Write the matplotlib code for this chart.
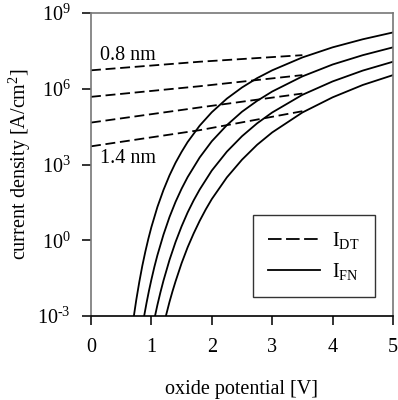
import numpy as np
import matplotlib
matplotlib.use("Agg")
import matplotlib.pyplot as plt
from matplotlib.ticker import FixedLocator, FixedFormatter
from matplotlib.lines import Line2D

plt.rcParams['font.family'] = ['Liberation Serif', 'DejaVu Serif']
plt.rcParams['mathtext.fontset'] = 'custom'
plt.rcParams['mathtext.rm'] = 'Liberation Serif'
plt.rcParams['mathtext.it'] = 'Liberation Serif:italic'

# direct tunneling currents (dashed), log10 of J, 0.8 nm ... 1.4 nm
dt_v = [0.0, 1.8, 3.5]
dt_log = [
    [6.73, 7.07, 7.33],
    [5.68, 6.10, 6.54],
    [4.66, 5.26, 5.81],
    [3.72, 4.36, 5.11],
]

# Fowler-Nordheim currents (solid)
fn_v = [
    [0.71, 0.75, 0.80, 0.85, 0.90, 0.95, 1.0, 1.1, 1.2, 1.3, 1.4, 1.5, 1.6, 1.8, 2.0, 2.25, 2.5, 2.75, 3.0, 3.5, 4.0, 4.5, 5.0],
    [0.88, 0.92, 0.96, 1.0, 1.05, 1.1, 1.2, 1.3, 1.4, 1.5, 1.6, 1.8, 2.0, 2.25, 2.5, 2.75, 3.0, 3.5, 4.0, 4.5, 5.0],
    [1.06, 1.1, 1.15, 1.2, 1.3, 1.4, 1.5, 1.6, 1.7, 1.8, 2.0, 2.25, 2.5, 2.75, 3.0, 3.5, 4.0, 4.5, 5.0],
    [1.24, 1.3, 1.35, 1.4, 1.5, 1.6, 1.7, 1.8, 1.9, 2.0, 2.25, 2.5, 2.75, 3.0, 3.5, 4.0, 4.5, 5.0],
]
fn_log = [
    [-3.0, -2.36, -1.65, -1.01, -0.45, 0.06, 0.52, 1.32, 1.99, 2.57, 3.07, 3.50, 3.89, 4.54, 5.07, 5.61, 6.05, 6.42, 6.73, 7.24, 7.64, 7.96, 8.23],
    [-3.0, -2.48, -2.00, -1.56, -1.05, -0.59, 0.22, 0.92, 1.52, 2.04, 2.50, 3.28, 3.92, 4.56, 5.09, 5.52, 5.89, 6.49, 6.96, 7.33, 7.64],
    [-3.0, -2.56, -2.06, -1.60, -0.78, -0.07, 0.55, 1.10, 1.58, 2.01, 2.76, 3.51, 4.12, 4.63, 5.06, 5.76, 6.29, 6.72, 7.07],
    [-3.0, -2.44, -2.02, -1.63, -0.91, -0.28, 0.27, 0.77, 1.22, 1.63, 2.49, 3.19, 3.78, 4.27, 5.06, 5.66, 6.15, 6.54],
]

y_ticks = [-3, 0, 3, 6, 9]
y_labels = ['$10^{\u20103}$', r'$10^{0}$', r'$10^{3}$', r'$10^{6}$', r'$10^{9}$']
x_ticks = [0, 1, 2, 3, 4, 5]

fig = plt.figure(figsize=(3.98, 4.0), dpi=100)
ax = fig.add_axes([0.2286, 0.21, 0.7588, 0.7575])

for row in dt_log:
    ax.plot(dt_v, row, color='black', lw=1.3, dashes=(5.5, 2.6))
for v, row in zip(fn_v, fn_log):
    ax.plot(v, row, color='black', lw=1.3)

ax.set_xlim(0, 5)
ax.set_ylim(-3, 9)
ax.xaxis.set_major_locator(FixedLocator(x_ticks))
ax.yaxis.set_major_locator(FixedLocator(y_ticks))
ax.yaxis.set_major_formatter(FixedFormatter(y_labels))
ax.tick_params(direction='out', length=6.5, width=1.4, color='#333333',
               labelsize=14.5, pad=8)
ax.tick_params(axis='x', pad=9)

for side in ['left', 'top', 'right']:
    ax.spines[side].set_color('#777777')
ax.spines['bottom'].set_color('black')
for s in ax.spines.values():
    s.set_linewidth(1.2)

ax.set_xlabel('oxide potential [V]', fontsize=14.5, labelpad=17)
ax.set_ylabel(r'current density [A/cm$^2$]', fontsize=14.5, labelpad=3)

ax.text(0.15, 7.33, '0.8 nm', fontsize=14.5, ha='left', va='center')
ax.text(0.15, 3.25, '1.4 nm', fontsize=14.5, ha='left', va='center')

handles = [Line2D([], [], color='black', lw=1.3, dashes=(7.5, 2.5)),
           Line2D([], [], color='black', lw=1.3)]
leg = ax.legend(handles, [r'I$_{\rm DT}$', r'I$_{\rm FN}$'], loc='lower right',
                bbox_to_anchor=(0.94, 0.063), borderaxespad=0, fontsize=14.5,
                frameon=True, fancybox=False, edgecolor='black',
                handlelength=2.6, handletextpad=0.6, borderpad=0.75,
                labelspacing=0.5)
leg.get_frame().set_linewidth(1.0)

fig.savefig('out.png', dpi=100)
